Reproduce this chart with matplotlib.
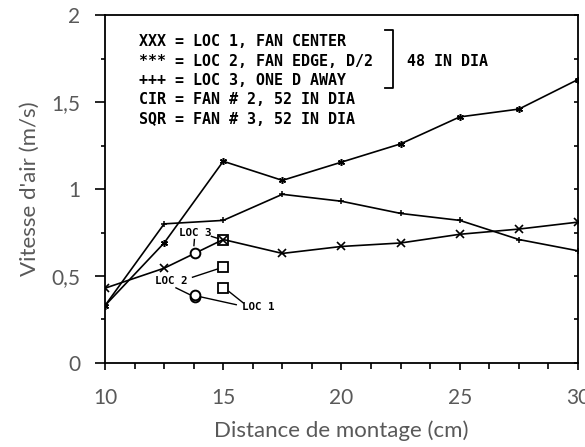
import matplotlib
matplotlib.use("agg")
import matplotlib.pyplot as plt
from matplotlib.ticker import MultipleLocator, FixedLocator

# Distance (cm) and air speed (m/s) for the three measurement locations
distance = [10, 12.5, 15, 17.5, 20, 22.5, 25, 27.5, 30]
loc1_center = [0.43, 0.545, 0.71, 0.63, 0.67, 0.69, 0.74, 0.77, 0.81]
loc2_edge = [0.33, 0.69, 1.16, 1.05, 1.155, 1.26, 1.415, 1.46, 1.63]
loc3_away = [0.33, 0.80, 0.82, 0.97, 0.93, 0.86, 0.82, 0.71, 0.645]

# Single readings for the 52 in fans
cir_x = [13.8, 13.8, 13.8]
cir_y = [0.38, 0.39, 0.63]
sqr_x = [15, 15, 15]
sqr_y = [0.43, 0.55, 0.71]

xtick_vals = [10, 15, 20, 25, 30]
ytick_vals = [0, 0.5, 1, 1.5, 2]
ytick_text = ["0", "0,5", "1", "1,5", "2"]

legend_lines = [
    "XXX = LOC 1, FAN CENTER",
    "*** = LOC 2, FAN EDGE, D/2",
    "+++ = LOC 3, ONE D AWAY",
    "CIR = FAN # 2, 52 IN DIA",
    "SQR = FAN # 3, 52 IN DIA",
]

label_font = "Lato"
label_color = "#595959"
mono = "DejaVu Sans Mono"

fig = plt.figure(figsize=(5.85, 4.47), dpi=100)
ax = fig.add_axes([0.1795, 0.188, 0.8085, 0.778])

lw = 1.2
ax.plot(distance, loc1_center, color="black", lw=lw, marker="x", ms=6, mew=1.2)
ax.plot(distance, loc2_edge, color="black", lw=lw, marker=(6, 2, 0), ms=5, mew=1.1)
ax.plot(distance, loc3_away, color="black", lw=lw, marker="+", ms=5, mew=1.1)
ax.plot(cir_x, cir_y, ls="none", marker="o", ms=7, mfc="white", mec="black", mew=1.4)
ax.plot(sqr_x, sqr_y, ls="none", marker="s", ms=7, mfc="none", mec="black", mew=1.3)

ax.set_xlim(10, 30)
ax.set_ylim(0, 2)

for side in ax.spines.values():
    side.set_linewidth(1.3)

ax.xaxis.set_major_locator(FixedLocator(xtick_vals))
ax.xaxis.set_minor_locator(MultipleLocator(1.25))
ax.set_xticklabels([str(v) for v in xtick_vals])
ax.yaxis.set_major_locator(FixedLocator(ytick_vals))
ax.yaxis.set_minor_locator(MultipleLocator(0.25))
ax.set_yticklabels(ytick_text)

ax.tick_params(axis="x", which="both", direction="out", length=5, width=1.2,
               pad=13, labelsize=15, labelcolor=label_color)
ax.tick_params(axis="x", which="minor", length=4)
ax.tick_params(axis="y", which="major", direction="out", length=7, width=1.2,
               pad=11, labelsize=15, labelcolor=label_color)
ax.tick_params(axis="y", which="minor", direction="out", length=3, width=1.2)
for lab in ax.get_xticklabels() + ax.get_yticklabels():
    lab.set_fontfamily(label_font)

# inward ticks along the right edge
ax_r = ax.twinx()
ax_r.set_ylim(0, 2)
ax_r.yaxis.set_major_locator(MultipleLocator(0.25))
ax_r.tick_params(axis="y", direction="in", length=3, width=1.2, labelright=False)
for side in ax_r.spines.values():
    side.set_visible(False)

ax.set_xlabel("Distance de montage (cm)", fontfamily=label_font, fontsize=16,
              color=label_color, labelpad=9)
ax.set_ylabel("Vitesse d'air (m/s)", fontfamily=label_font, fontsize=16,
              color=label_color, labelpad=8)

# key text block
key_y = [0.925, 0.868, 0.813, 0.759, 0.701]
for txt, yy in zip(legend_lines, key_y):
    ax.text(0.072, yy, txt, transform=ax.transAxes, fontfamily=mono,
            fontweight="bold", fontsize=10.8, va="center", ha="left")
ax.plot([0.592, 0.609, 0.609, 0.592], [0.957, 0.957, 0.790, 0.790],
        transform=ax.transAxes, color="black", lw=1.3, clip_on=False)
ax.text(0.638, 0.868, "48 IN DIA", transform=ax.transAxes, fontfamily=mono,
        fontweight="bold", fontsize=10.8, va="center", ha="left")

# location call-outs
small = dict(fontfamily=mono, fontweight="bold", fontsize=7.8, va="center", ha="center")
ax.text(13.8, 0.745, "LOC 3", **small)
ax.text(12.8, 0.47, "LOC 2", **small)
ax.text(16.5, 0.32, "LOC 1", **small)
lead = dict(color="black", lw=1.0)
ax.plot([13.78, 13.76], [0.71, 0.675], **lead)
ax.plot([14.5, 14.8], [0.728, 0.715], **lead)
ax.plot([13.7, 14.75], [0.493, 0.54], **lead)
ax.plot([13.0, 13.6], [0.432, 0.392], **lead)
ax.plot([14.05, 15.55], [0.38, 0.335], **lead)
ax.plot([15.25, 15.85], [0.41, 0.345], **lead)

fig.savefig("out.png", dpi=100)
